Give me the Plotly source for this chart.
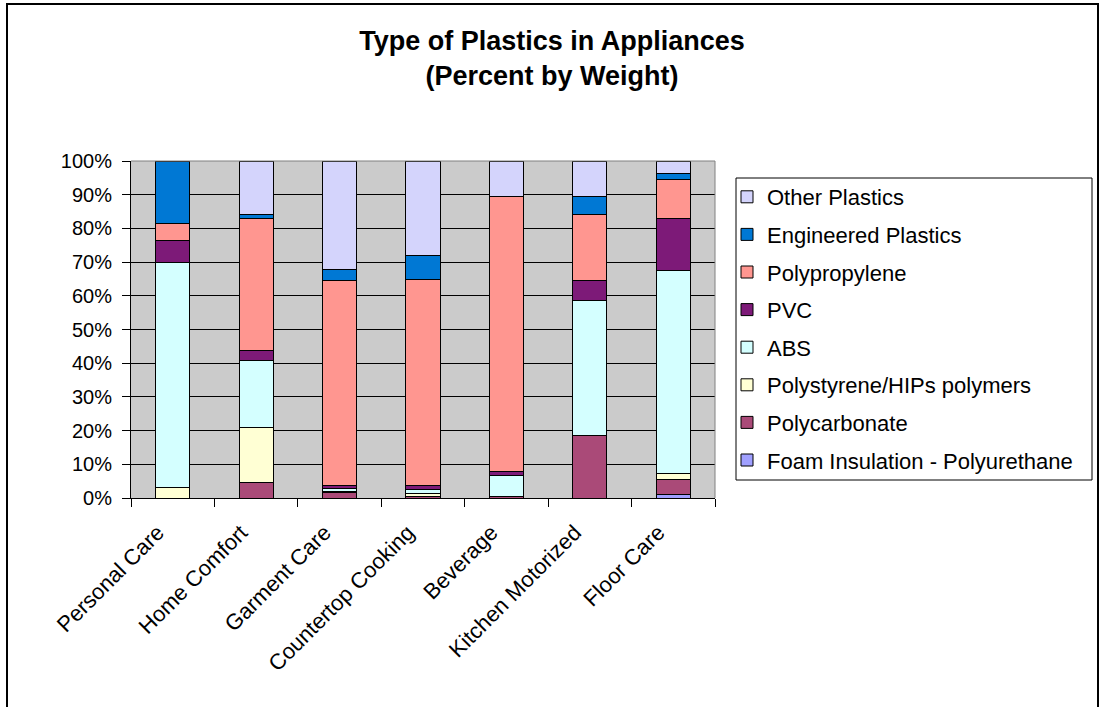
import plotly.graph_objects as go

# Appliance categories along the x axis
categories = ["Personal Care", "Home Comfort", "Garment Care", "Countertop Cooking",
              "Beverage", "Kitchen Motorized", "Floor Care"]

# Percent by weight of each plastic type, per category (stacked bottom to top)
foam_insulation = [0.0, 0.0, 0.0, 0.0, 0.0, 0.0, 0.9]
polycarbonate = [0.0, 4.6, 1.7, 0.4, 0.4, 18.5, 4.7]
polystyrene_hips = [3.0, 16.4, 0.3, 0.8, 0.0, 0.0, 1.8]
abs_plastic = [66.8, 19.7, 0.7, 1.3, 6.2, 40.2, 60.2]
pvc = [6.5, 3.1, 1.0, 1.2, 1.3, 5.8, 15.3]
polypropylene = [5.3, 39.2, 60.7, 61.2, 81.6, 19.7, 11.7]
engineered_plastics = [18.4, 1.2, 3.4, 7.1, 0.0, 5.3, 1.8]
other_plastics = [0.0, 15.8, 32.2, 28.0, 10.5, 10.5, 3.6]

series = [
    ("Foam Insulation - Polyurethane", foam_insulation, "#A0A0FF"),
    ("Polycarbonate", polycarbonate, "#AA4A78"),
    ("Polystyrene/HIPs polymers", polystyrene_hips, "#FFFFD4"),
    ("ABS", abs_plastic, "#D4FFFF"),
    ("PVC", pvc, "#7D1A78"),
    ("Polypropylene", polypropylene, "#FF9690"),
    ("Engineered Plastics", engineered_plastics, "#0078D4"),
    ("Other Plastics", other_plastics, "#D4D4FC"),
]

W, H = 1101, 707
ML, MR, MT, MB = 131, 386, 161, 209
PW, PH = W - ML - MR, H - MT - MB
FONT = "Arial, Liberation Sans, sans-serif"


def px(x):
    return (x - ML) / PW


def py(y):
    return (H - MB - y) / PH


fig = go.Figure()
n = len(series)
for i, (name, vals, color) in enumerate(series):
    fig.add_trace(go.Bar(
        x=categories, y=vals, name=name, legendgroup=f"g{i}",
        legendrank=n - i,
        marker=dict(color=color, line=dict(color="black", width=1)),
    ))

fig.update_layout(
    width=W, height=H,
    margin=dict(l=ML, r=MR, t=MT, b=MB),
    barmode="stack", barnorm="percent", bargap=0.59,
    paper_bgcolor="white", plot_bgcolor="#CBCBCB",
    font=dict(family=FONT, color="black"),
    title=dict(
        text="<b>Type of Plastics in Appliances<br>(Percent by Weight)</b>",
        font=dict(size=27, family=FONT, color="black"),
        x=552 / W, xanchor="center", xref="container",
        y=1 - 50 / H, yanchor="top", yref="container",
    ),
    legend=dict(
        x=727 / W, xref="container", xanchor="left",
        y=1 - 176 / H, yref="container", yanchor="top",
        traceorder="grouped", tracegroupgap=6,
        font=dict(size=22, family=FONT, color="black"),
        bgcolor="rgba(0,0,0,0)", borderwidth=0,
    ),
    xaxis=dict(
        type="category", tickson="boundaries", ticks="outside", ticklen=8,
        tickcolor="black", tickwidth=1, showline=True, linecolor="black",
        linewidth=1, showgrid=False, tickangle=-45,
        ticklabelstandoff=12, ticklabelshift=-15,
        tickfont=dict(size=22, family=FONT, color="black"),
    ),
    yaxis=dict(
        range=[0, 100], dtick=10, ticksuffix="%", ticks="outside", ticklen=8,
        tickcolor="black", showline=True, linecolor="black", linewidth=1,
        showgrid=True, gridcolor="black", gridwidth=1, zeroline=False,
        ticklabelstandoff=6,
        tickfont=dict(size=20, family=FONT, color="black"),
    ),
    shapes=[
        # plot area frame (top and right edges)
        dict(type="line", xref="paper", yref="paper", x0=0, x1=1, y0=1, y1=1,
             line=dict(color="#808080", width=1)),
        dict(type="line", xref="paper", yref="paper", x0=1, x1=1, y0=0, y1=1,
             line=dict(color="#808080", width=1)),
        # legend box
        dict(type="rect", xref="paper", yref="paper",
             x0=px(736), x1=px(1092), y0=py(480), y1=py(178),
             line=dict(color="black", width=1)),
        # chart outer border
        dict(type="rect", xref="paper", yref="paper",
             x0=px(7), x1=px(1098), y0=py(712), y1=py(4),
             line=dict(color="black", width=2)),
    ],
)

fig.write_html("out.html")
